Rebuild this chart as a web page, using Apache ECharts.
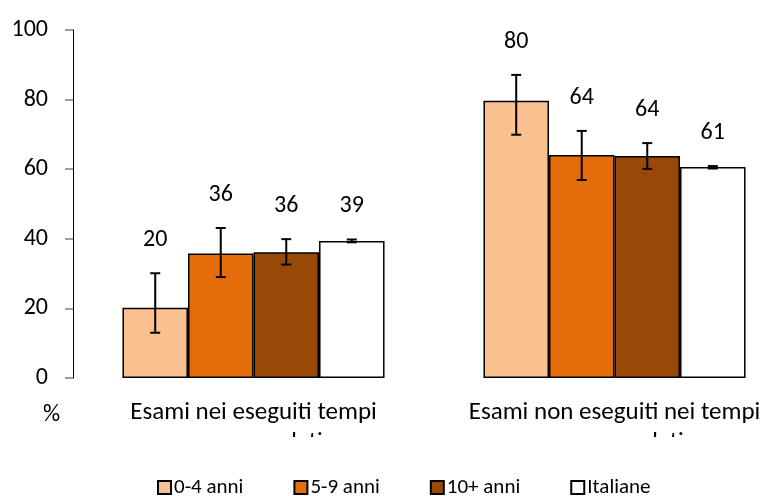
<!DOCTYPE html>
<html>
<head>
<meta charset="utf-8">
<script src="https://cdn.jsdelivr.net/npm/echarts@6/dist/echarts.min.js"></script>
<style>html,body{margin:0;padding:0;background:#fff;overflow:hidden;width:768px;height:496px;}#c{width:820px;height:496px;}</style>
</head>
<body>
<div id="c"></div>
<script>
const categories = ['Esami nei eseguiti tempi\nraccomandati', 'Esami non eseguiti nei tempi\nraccomandati'];
const seriesNames = ['0-4 anni', '5-9 anni', '10+ anni', 'Italiane'];
const yTicks = [0, 20, 40, 60, 80, 100];

const vals04 = [20.2, 79.7];
const vals59 = [35.8, 64.1];
const vals10 = [36.1, 63.8];
const valsIta = [39.4, 60.6];

const low04 = [13.0, 69.9];
const high04 = [30.1, 87.1];
const low59 = [29.0, 56.9];
const high59 = [43.1, 71.0];
const low10 = [32.6, 60.1];
const high10 = [39.9, 67.5];
const lowIta = [39.0, 60.2];
const highIta = [39.8, 60.9];

const colors = ['#FAC090', '#E46C0A', '#984807', '#FFFFFF'];
const FONT = 'Carlito, Lato, sans-serif';
const CAT_GAP = 0.274;

const allVals = [vals04, vals59, vals10, valsIta];
const allLow = [low04, low59, low10, lowIta];
const allHigh = [high04, high59, high10, highIta];

const errData = [];
for (let s = 0; s < 4; s++) {
  for (let c = 0; c < categories.length; c++) {
    errData.push([c, s, allLow[s][c], allHigh[s][c], allVals[s][c]]);
  }
}

const chart = echarts.init(document.getElementById('c'), null, {renderer: 'canvas'});

const barSeries = seriesNames.map((name, s) => ({
  name: name,
  type: 'bar',
  data: allVals[s],
  barGap: '0%',
  barCategoryGap: (CAT_GAP * 100) + '%',
  itemStyle: {color: colors[s], borderColor: '#000', borderWidth: 1.5},
  z: 2
}));

const errSeries = {
  type: 'custom',
  name: 'err',
  data: errData,
  z: 10,
  silent: true,
  renderItem: function (params, api) {
    const c = api.value(0), s = api.value(1), lo = api.value(2), hi = api.value(3), v = api.value(4);
    const band = api.size([1, 0])[0];
    const barW = band * (1 - CAT_GAP) / 4;
    const x = api.coord([c, 0])[0] + (s - 1.5) * barW;
    const yLo = api.coord([c, lo])[1];
    const yHi = api.coord([c, hi])[1];
    const cap = 5;
    const st = {stroke: '#000', lineWidth: 2};
    return {
      type: 'group',
      children: [
        {type: 'line', shape: {x1: x, y1: yLo, x2: x, y2: yHi}, style: st},
        {type: 'line', shape: {x1: x - cap, y1: yLo, x2: x + cap, y2: yLo}, style: st},
        {type: 'line', shape: {x1: x - cap, y1: yHi, x2: x + cap, y2: yHi}, style: st},
        {type: 'text', x: x, y: yHi - 33, style: {text: String(Math.round(v)), fill: '#000', font: '24px ' + FONT, align: 'center', verticalAlign: 'middle'}}
      ]
    };
  }
};

chart.setOption({
  animation: false,
  backgroundColor: '#fff',
  textStyle: {fontFamily: FONT},
  grid: {left: 73, top: 30, bottom: 118, width: 722, containLabel: false},
  legend: {
    data: seriesNames,
    left: 157,
    top: 477,
    padding: 0,
    icon: 'rect',
    itemWidth: 13,
    itemHeight: 13,
    itemGap: 50,
    textStyle: {fontFamily: FONT, fontSize: 21, color: '#000', padding: [0, 0, 0, -2]}
  },
  xAxis: {
    type: 'category',
    data: categories,
    axisLine: {show: false},
    axisTick: {show: false},
    axisLabel: {interval: 0, fontFamily: FONT, fontSize: 25, color: '#000', lineHeight: 30, margin: 20}
  },
  yAxis: {
    type: 'value',
    min: yTicks[0],
    max: yTicks[yTicks.length - 1],
    interval: yTicks[1] - yTicks[0],
    splitLine: {show: false},
    axisLine: {show: true, lineStyle: {color: '#000', width: 1}},
    axisTick: {show: true, length: 8, lineStyle: {color: '#808080', width: 1.5}},
    axisLabel: {fontFamily: FONT, fontSize: 24, color: '#000', margin: 25}
  },
  graphic: [
    {type: 'rect', left: 90, top: 437, shape: {width: 730, height: 36}, style: {fill: '#fff'}, z: 100},
    {type: 'text', left: 43, top: 403, style: {text: '%', font: '24px ' + FONT, fill: '#000'}, z: 100}
  ],
  series: barSeries.concat([errSeries])
});
</script>
</body>
</html>
